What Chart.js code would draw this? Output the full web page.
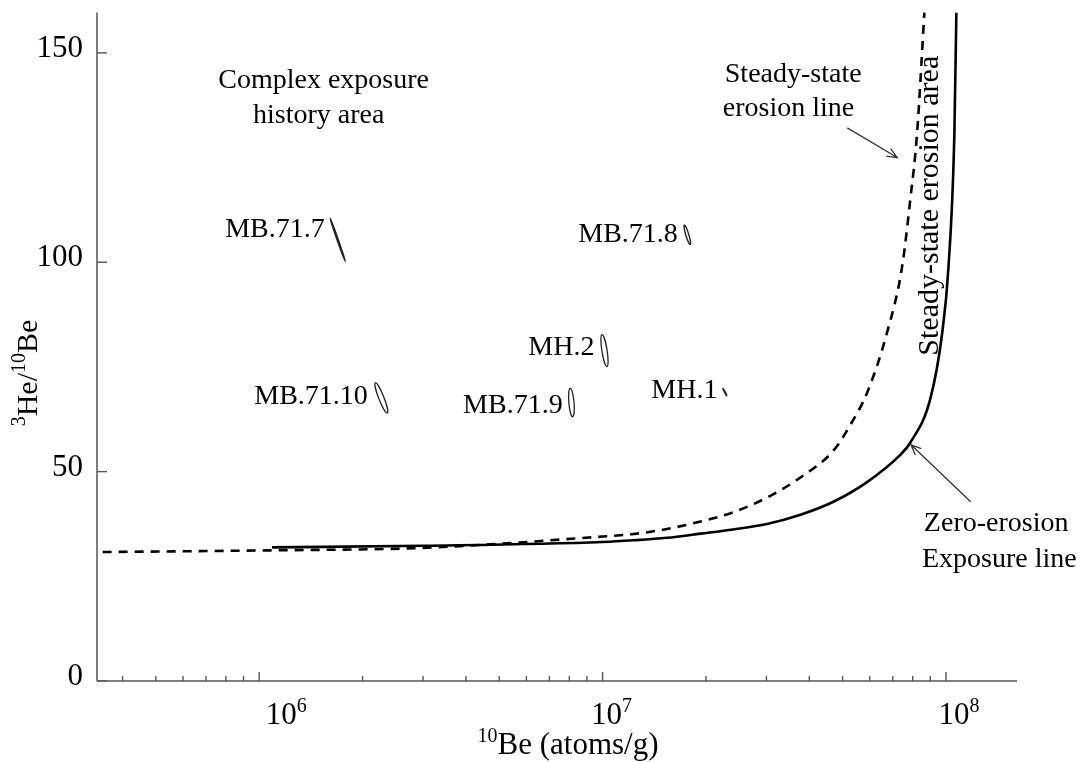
<!DOCTYPE html>
<html>
<head>
<meta charset="utf-8">
<script src="https://cdn.jsdelivr.net/npm/chart.js@4.4.1/dist/chart.umd.min.js"></script>
<style>
  body { margin: 0; background: #fff; }
  #wrap { width: 1090px; height: 762px; }
</style>
</head>
<body>
<div id="wrap"><canvas id="heBeChart" width="1090" height="762"></canvas></div>
<script>
// Zero-erosion exposure line
const zeroBe = [1.09e6, 3e6, 1e7, 1.23e7, 1.54e7, 1.93e7, 2.40e7, 3.01e7, 3.77e7, 4.70e7, 5.89e7, 7.36e7, 7.87e7, 9.01e7, 9.75e7, 1.017e8, 1.058e8, 1.072e8];
const zeroRatio = [31.9, 32.3, 33.2, 33.6, 34.2, 35.2, 36.2, 37.5, 39.7, 42.8, 47.5, 54.0, 56.9, 67.5, 83.1, 98.9, 130.9, 159.6];

// Steady-state erosion line
const steadyBe = [3.5e5, 1.08e6, 3e6, 1e7, 1.23e7, 1.54e7, 1.93e7, 2.40e7, 3.01e7, 3.77e7, 4.70e7, 5.27e7, 5.89e7, 6.73e7, 7.45e7, 7.87e7, 8.24e7, 8.65e7];
const steadyRatio = [30.8, 31.2, 31.8, 34.5, 35.1, 36.3, 38.1, 40.3, 43.8, 48.6, 55.0, 61.2, 68.8, 83.1, 98.9, 114.9, 130.9, 159.6];

// samples: error ellipse long axis, end points
const samples = ['MB.71.7', 'MB.71.8', 'MB.71.9', 'MB.71.10', 'MH.1', 'MH.2'];
const beTop = [1.61e6, 1.73e7, 8.05e6, 2.18e6, 2.24e7, 9.96e6];
const ratioTop = [110.5, 108.9, 69.9, 71.2, 69.9, 82.7];
const beBottom = [1.78e6, 1.80e7, 8.18e6, 2.36e6, 2.30e7, 1.03e7];
const ratioBottom = [100.2, 104.2, 63.1, 64.0, 68.1, 75.1];

// axes
const yTicks = [0, 50, 100, 150];
const xMajor = [1e6, 1e7, 1e8];
const xMin = 3.37e5, xMax = 1.61e8, yMin = 0, yMax = 160;

// ellipse half-width and label nudges (px)
const ellipseStyle = {
    'MB.71.7': { minor: 0.5, lw: 1.7, dy: -10 },
    'MB.71.8': { minor: 1.5, lw: 1.4, dy: 0 },
    'MB.71.9': { minor: 2.6, lw: 1.3, dy: 3 },
    'MB.71.10': { minor: 2.6, lw: 1.3, dy: -1 },
    'MH.1': { minor: 0.4, lw: 1.4, dy: -1 },
    'MH.2': { minor: 2.6, lw: 1.3, dy: -3 }
};
const xLabelShift = [27, 9, 13];
const SERIF = '"Liberation Serif", "Times New Roman", serif';

function drawParts(ctx, parts, x, y, size, align) {
    // parts: [text, isSuperscript]
    let total = 0;
    parts.forEach(p => {
        ctx.font = (p[1] ? Math.round(size * 0.66) : size) + 'px ' + SERIF;
        total += ctx.measureText(p[0]).width;
    });
    let cx = align === 'center' ? x - total / 2 : (align === 'right' ? x - total : x);
    ctx.textAlign = 'left';
    ctx.textBaseline = 'middle';
    parts.forEach(p => {
        ctx.font = (p[1] ? Math.round(size * 0.66) : size) + 'px ' + SERIF;
        ctx.fillText(p[0], cx, p[1] ? y - size * 0.3 : y);
        cx += ctx.measureText(p[0]).width;
    });
}

function arrow(ctx, x1, y1, x2, y2) {
    const ang = Math.atan2(y2 - y1, x2 - x1);
    ctx.beginPath();
    ctx.moveTo(x1, y1);
    ctx.lineTo(x2, y2);
    ctx.moveTo(x2 - 11 * Math.cos(ang - 0.4), y2 - 11 * Math.sin(ang - 0.4));
    ctx.lineTo(x2, y2);
    ctx.lineTo(x2 - 11 * Math.cos(ang + 0.4), y2 - 11 * Math.sin(ang + 0.4));
    ctx.stroke();
}

const decor = {
    id: 'decor',
    beforeDatasetsDraw(chart) {
        const { ctx, chartArea: a, scales: { x, y } } = chart;
        ctx.save();
        // axis lines
        ctx.strokeStyle = '#7d7d7d';
        ctx.lineWidth = 2;
        ctx.beginPath();
        ctx.moveTo(a.left, a.top + 1.5);
        ctx.lineTo(a.left, a.bottom);
        ctx.stroke();
        ctx.strokeStyle = '#555';
        ctx.lineWidth = 1.6;
        ctx.beginPath();
        ctx.moveTo(a.left, a.bottom);
        ctx.lineTo(a.right, a.bottom);
        ctx.stroke();

        // y ticks, pointing in
        ctx.fillStyle = '#000';
        ctx.lineWidth = 1.4;
        yTicks.forEach(v => {
            const py = y.getPixelForValue(v);
            ctx.beginPath();
            ctx.moveTo(a.left, py);
            ctx.lineTo(a.left + 10, py);
            ctx.stroke();
            drawParts(ctx, [[String(v), false]], a.left - 14, py - 4, 31, 'right');
        });

        // x ticks: majors and minors
        for (let d = 5; d <= 8; d++) {
            for (let m = 1; m <= 9; m++) {
                const v = m * Math.pow(10, d);
                if (v < xMin || v > xMax) continue;
                const px = x.getPixelForValue(v);
                ctx.beginPath();
                ctx.moveTo(px, a.bottom);
                ctx.lineTo(px, a.bottom - (m === 1 ? 9 : 5));
                ctx.stroke();
            }
        }
        xMajor.forEach((v, i) => {
            const px = x.getPixelForValue(v);
            const exp = String(Math.round(Math.log10(v)));
            drawParts(ctx, [['10', false], [exp, true]], px + xLabelShift[i], a.bottom + 35, 31, 'center');
        });

        // axis titles
        drawParts(ctx, [['10', true], ['Be (atoms/g)', false]], 568, 746, 31, 'center');
        ctx.save();
        ctx.translate(29, 373);
        ctx.rotate(-Math.PI / 2);
        drawParts(ctx, [['3', true], ['He/', false], ['10', true], ['Be', false]], 0, 0, 30, 'center');
        ctx.restore();
        ctx.restore();
    },
    afterDatasetsDraw(chart) {
        const { ctx, scales: { x, y } } = chart;
        ctx.save();
        ctx.fillStyle = '#000';
        ctx.strokeStyle = '#222';

        // sample ellipses and names
        samples.forEach((name, i) => {
            const st = ellipseStyle[name];
            const x1 = x.getPixelForValue(beTop[i]), y1 = y.getPixelForValue(ratioTop[i]);
            const x2 = x.getPixelForValue(beBottom[i]), y2 = y.getPixelForValue(ratioBottom[i]);
            const cx = (x1 + x2) / 2, cy = (y1 + y2) / 2;
            const half = Math.hypot(x2 - x1, y2 - y1) / 2;
            ctx.lineWidth = st.lw;
            ctx.beginPath();
            ctx.ellipse(cx, cy, half, st.minor, Math.atan2(y2 - y1, x2 - x1), 0, Math.PI * 2);
            ctx.stroke();
            drawParts(ctx, [[name, false]], Math.min(x1, x2) - st.minor - 5, cy + st.dy, 28, 'right');
        });

        // area / line notes
        const note = (txt, bx, r) => drawParts(ctx, [[txt, false]], x.getPixelForValue(bx), y.getPixelForValue(r), 28, 'center');
        note('Complex exposure', 1.54e6, 143.3);
        note('history area', 1.49e6, 135.0);
        note('Steady-state', 3.59e7, 144.8);
        note('erosion line', 3.48e7, 136.6);
        note('Zero-erosion', 1.40e8, 37.5);
        note('Exposure line', 1.43e8, 29.1);

        ctx.save();
        ctx.translate(x.getPixelForValue(9.0e7), y.getPixelForValue(113.5));
        ctx.rotate(-Math.PI / 2);
        drawParts(ctx, [['Steady-state erosion area', false]], 0, 0, 30, 'center');
        ctx.restore();

        ctx.strokeStyle = '#333';
        ctx.lineWidth = 1.3;
        arrow(ctx, x.getPixelForValue(5.16e7), y.getPixelForValue(132.1), x.getPixelForValue(7.21e7), y.getPixelForValue(125.0));
        arrow(ctx, x.getPixelForValue(1.18e8), y.getPixelForValue(42.8), x.getPixelForValue(7.91e7), y.getPixelForValue(56.4));
        ctx.restore();
    }
};

const ctx = document.getElementById('heBeChart').getContext('2d');
new Chart(ctx, {
    type: 'scatter',
    data: {
        datasets: [{
            label: 'Zero-erosion exposure line',
            data: zeroBe.map((v, i) => ({ x: v, y: zeroRatio[i] })),
            showLine: true,
            borderColor: '#000',
            borderWidth: 2.6,
            pointRadius: 0,
            cubicInterpolationMode: 'monotone'
        }, {
            label: 'Steady-state erosion line',
            data: steadyBe.map((v, i) => ({ x: v, y: steadyRatio[i] })),
            showLine: true,
            borderColor: '#000',
            borderWidth: 2.6,
            borderDash: [9, 7],
            pointRadius: 0,
            cubicInterpolationMode: 'monotone'
        }]
    },
    options: {
        responsive: false,
        animation: false,
        layout: { padding: { left: 97, right: 73, top: 11, bottom: 81 } },
        plugins: { legend: { display: false }, tooltip: { enabled: false } },
        scales: {
            x: { type: 'logarithmic', min: xMin, max: xMax, display: false },
            y: { type: 'linear', min: yMin, max: yMax, display: false }
        }
    },
    plugins: [decor]
});
</script>
</body>
</html>
